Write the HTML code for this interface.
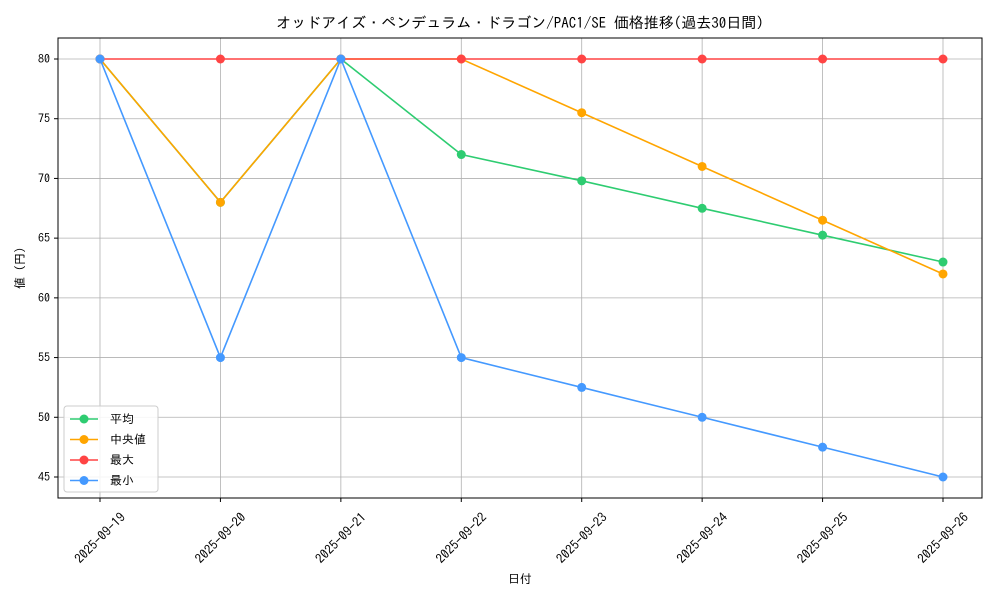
<!DOCTYPE html>
<html><head><meta charset="utf-8"><style>
body{margin:0;background:#fff;}
svg text{font-family:"IPAGothic","Noto Sans CJK JP",monospace;fill:#000;}
</style></head><body>
<svg id="chart" width="1000" height="600" viewBox="0 0 1000 600" xmlns="http://www.w3.org/2000/svg">
<rect x="0" y="0" width="1000" height="600" fill="#fff"/>
<text x="520" y="28" font-size="15" text-anchor="middle">オッドアイズ・ペンデュラム・ドラゴン/PAC1/SE 価格推移(過去30日間)</text>
<g id="grid"></g><g id="axes"></g><g id="series"></g><g id="legend"></g>
<text x="520" y="583" font-size="12" text-anchor="middle">日付</text>
<text transform="translate(24,268) rotate(-90)" font-size="12" text-anchor="middle">値 (円)</text>
</svg>
<script>
const categories=["2025-09-19","2025-09-20","2025-09-21","2025-09-22","2025-09-23","2025-09-24","2025-09-25","2025-09-26"];
const avgValues=[80,68,80,72,69.8,67.5,65.25,63];
const medianValues=[80,68,80,80,75.5,71,66.5,62];
const maxValues=[80,80,80,80,80,80,80,80];
const minValues=[80,55,80,55,52.5,50,47.5,45];
const yTicks=[45,50,55,60,65,70,75,80];
const seriesNames=["平均","中央値","最大","最小"];
const NS="http://www.w3.org/2000/svg";
const L=58,R=982,T=38,B=498;
function xs(i){return 100+i*(943-100)/(categories.length-1);}
function ys(v){return 477-(v-45)*(477-59)/35;}
function mk(tag,attrs,parent){const e=document.createElementNS(NS,tag);for(const k in attrs)e.setAttribute(k,attrs[k]);parent.appendChild(e);return e;}
const grid=document.getElementById('grid'),axes=document.getElementById('axes'),ser=document.getElementById('series'),leg=document.getElementById('legend');
categories.forEach((c,i)=>{
 const g=mk('line',{x1:xs(i),x2:xs(i),y1:T,y2:B,stroke:'#b0b0b0','stroke-width':0.8},grid);
 
 
 mk('line',{x1:xs(i),x2:xs(i),y1:B,y2:B+4,stroke:'#000'},axes);
 const cx=xs(i),cy=538;
 const t=mk('text',{x:cx,y:cy+4.5,'font-size':13,'text-anchor':'middle',transform:`rotate(-45 ${cx} ${cy})`},axes);
 t.textContent=c;
 
 
});
yTicks.forEach(v=>{
 const g=mk('line',{x1:L,x2:R,y1:ys(v),y2:ys(v),stroke:'#b0b0b0','stroke-width':0.8},grid);
 
 
 mk('line',{x1:L-4,x2:L,y1:ys(v),y2:ys(v),stroke:'#000'},axes);
 const t=mk('text',{x:L-8,y:ys(v)+4,'font-size':12,'text-anchor':'end'},axes);
 t.textContent=v;
 
 
});
const frame=mk('rect',{x:L,y:T,width:R-L,height:B-T,fill:'none',stroke:'#000','stroke-width':1},axes);


const all=[[avgValues,'#2ecc71','avg'],[medianValues,'#ffa500','median'],[maxValues,'#ff4444','max'],[minValues,'#4499ff','min']];
all.forEach(([vals,col,nm])=>{
 const g=mk('g',{},ser);
 
 
 const p=mk('polyline',{points:vals.map((v,i)=>xs(i)+','+ys(v)).join(' '),fill:'none',stroke:col,'stroke-width':1.6},g);
 
 
 vals.forEach((v,i)=>{
  const c=mk('circle',{cx:xs(i),cy:ys(v),r:4.5,fill:col},g);
  
  
 });
});
const lb=mk('rect',{x:64,y:406,width:94,height:86,fill:'#fff','fill-opacity':0.85,stroke:'#ccc',rx:3},leg);


all.forEach(([v,col,nm],k)=>{
 const y=419+k*20.5;
 const g=mk('g',{},leg);
 
 
 mk('line',{x1:70,x2:98,y1:y,y2:y,stroke:col,'stroke-width':1.6},g);
 mk('circle',{cx:84,cy:y,r:4.5,fill:col},g);
 const t=mk('text',{x:110,y:y+4,'font-size':12},g);
 t.textContent=seriesNames[k];
});
</script>
</body></html>
